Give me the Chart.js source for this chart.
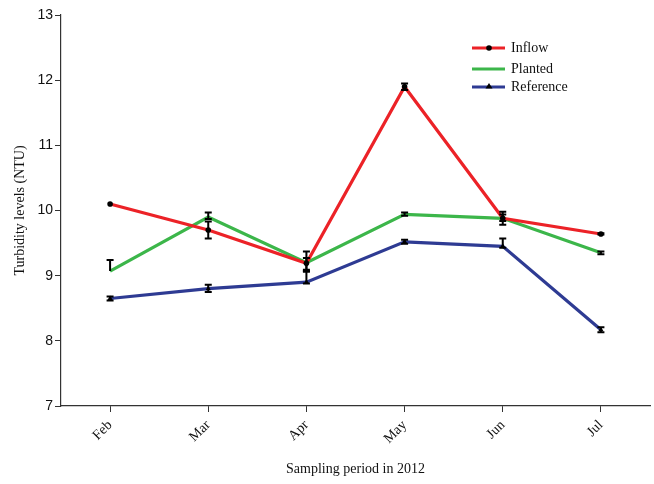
<!DOCTYPE html>
<html>
<head>
<meta charset="utf-8">
<script src="https://cdn.jsdelivr.net/npm/chart.js@4/dist/chart.umd.min.js"></script>
<style>
html,body{margin:0;padding:0;background:#fff;}
#wrap{width:654px;height:484px;position:relative;}
</style>
</head>
<body>
<div id="wrap"><canvas id="c" width="654" height="484"></canvas></div>
<script>
const months = ["Feb", "Mar", "Apr", "May", "Jun", "Jul"];
const inflow = [10.10, 9.70, 9.19, 11.90, 9.88, 9.64];
const planted = [9.07, 9.90, 9.20, 9.94, 9.88, 9.35];
const reference = [8.65, 8.80, 8.90, 9.52, 9.45, 8.17];
const errInflowUp = [0, 0.13, 0.08, 0.05, 0.10, 0.01];
const errInflowDown = [0, 0.13, 0.10, 0.05, 0.10, 0.01];
const errPlantedUp = [0.17, 0.07, 0.17, 0.03, 0.06, 0.02];
const errPlantedDown = [0, 0.03, 0.14, 0.02, 0.04, 0.02];
const errReferenceUp = [0.03, 0.06, 0.17, 0.03, 0.12, 0.04];
const errReferenceDown = [0.03, 0.05, 0.02, 0.03, 0.02, 0.04];
const yTicks = [7, 8, 9, 10, 11, 12, 13];

const errorBars = {
  id: 'errorBars',
  afterDatasetsDraw(chart) {
    const ctx = chart.ctx;
    const y = chart.scales.y;
    ctx.save();
    ctx.strokeStyle = '#000';
    ctx.lineWidth = 2;
    chart.data.datasets.forEach((ds, i) => {
      const meta = chart.getDatasetMeta(i);
      ds.data.forEach((v, j) => {
        const up = ds.errUp[j], dn = ds.errDown[j];
        if (!up && !dn) return;
        const px = meta.data[j].x;
        const top = y.getPixelForValue(v + up);
        const bot = y.getPixelForValue(v - dn);
        ctx.beginPath();
        ctx.moveTo(px, top); ctx.lineTo(px, bot);
        if (up) { ctx.moveTo(px - 3.5, top); ctx.lineTo(px + 3.5, top); }
        if (dn) { ctx.moveTo(px - 3.5, bot); ctx.lineTo(px + 3.5, bot); }
        ctx.stroke();
      });
    });
    ctx.restore();
  }
};

const customLegend = {
  id: 'customLegend',
  afterDraw(chart) {
    const ctx = chart.ctx;
    ctx.save();
    const rows = [48, 69, 87];
    chart.data.datasets.forEach((ds, i) => {
      const yy = rows[i];
      ctx.strokeStyle = ds.borderColor;
      ctx.lineWidth = 3;
      ctx.beginPath(); ctx.moveTo(472, yy); ctx.lineTo(505, yy); ctx.stroke();
      ctx.fillStyle = '#000';
      if (ds.pointStyle === 'circle') {
        ctx.beginPath(); ctx.arc(489, yy, 2.8, 0, Math.PI * 2); ctx.fill();
      } else if (ds.pointStyle === 'triangle') {
        ctx.beginPath(); ctx.moveTo(489, yy - 4); ctx.lineTo(492.5, yy + 1.5); ctx.lineTo(485.5, yy + 1.5); ctx.closePath(); ctx.fill();
      }
      ctx.fillStyle = '#111';
      ctx.font = '14px "Liberation Serif", "Times New Roman", serif';
      ctx.textBaseline = 'middle';
      ctx.textAlign = 'left';
      ctx.fillText(ds.label, 511, yy);
    });
    ctx.restore();
  }
};

new Chart(document.getElementById('c'), {
  type: 'line',
  data: {
    labels: months,
    datasets: [
      { label: 'Inflow', data: inflow, errUp: errInflowUp, errDown: errInflowDown, borderColor: '#EC2227', backgroundColor: '#000',
        borderWidth: 3.2, pointStyle: 'circle', pointRadius: 2.8, pointBackgroundColor: '#000', pointBorderWidth: 0, tension: 0 },
      { label: 'Planted', data: planted, errUp: errPlantedUp, errDown: errPlantedDown, borderColor: '#3CB64A', backgroundColor: '#000',
        borderWidth: 3.2, pointStyle: false, pointRadius: 0, tension: 0 },
      { label: 'Reference', data: reference, errUp: errReferenceUp, errDown: errReferenceDown, borderColor: '#2E3B93', backgroundColor: '#000',
        borderWidth: 3.2, pointStyle: 'triangle', pointRadius: 3, pointBackgroundColor: '#000', pointBorderWidth: 0, tension: 0 }
    ]
  },
  options: {
    responsive: false,
    animation: false,
    devicePixelRatio: 1,
    layout: { padding: { top: 15, right: 4, left: 0, bottom: 0 } },
    plugins: { legend: { display: false }, tooltip: { enabled: false } },
    scales: {
      x: {
        offset: true,
        grid: { display: true, drawOnChartArea: false, drawTicks: true, tickLength: 6, color: '#333', offset: false },
        border: { display: true, color: '#333', width: 1.2 },
        ticks: { maxRotation: 45, minRotation: 45, padding: 5, color: '#111',
          font: { family: '"Liberation Serif", "Times New Roman", serif', size: 14 } },
        title: { display: true, text: 'Sampling period in 2012', color: '#111', padding: { top: 10, bottom: 6 },
          font: { family: '"Liberation Serif", "Times New Roman", serif', size: 14 } },
        afterFit(s) { s.height = 78; }
      },
      y: {
        min: 7, max: 13,
        afterBuildTicks(s) { s.ticks = yTicks.map(v => ({ value: v })); },
        grid: { display: true, drawOnChartArea: false, drawTicks: true, tickLength: 6, color: '#333' },
        border: { display: true, color: '#333', width: 1.2 },
        ticks: { padding: 2, color: '#111',
          font: { family: '"Liberation Sans", Arial, sans-serif', size: 14 } },
        title: { display: true, text: 'Turbidity levels (NTU)', color: '#111', padding: { top: 12, bottom: 4 },
          font: { family: '"Liberation Serif", "Times New Roman", serif', size: 14 } },
        afterFit(s) { s.width = 61; }
      }
    }
  },
  plugins: [errorBars, customLegend]
});
</script>
</body>
</html>
